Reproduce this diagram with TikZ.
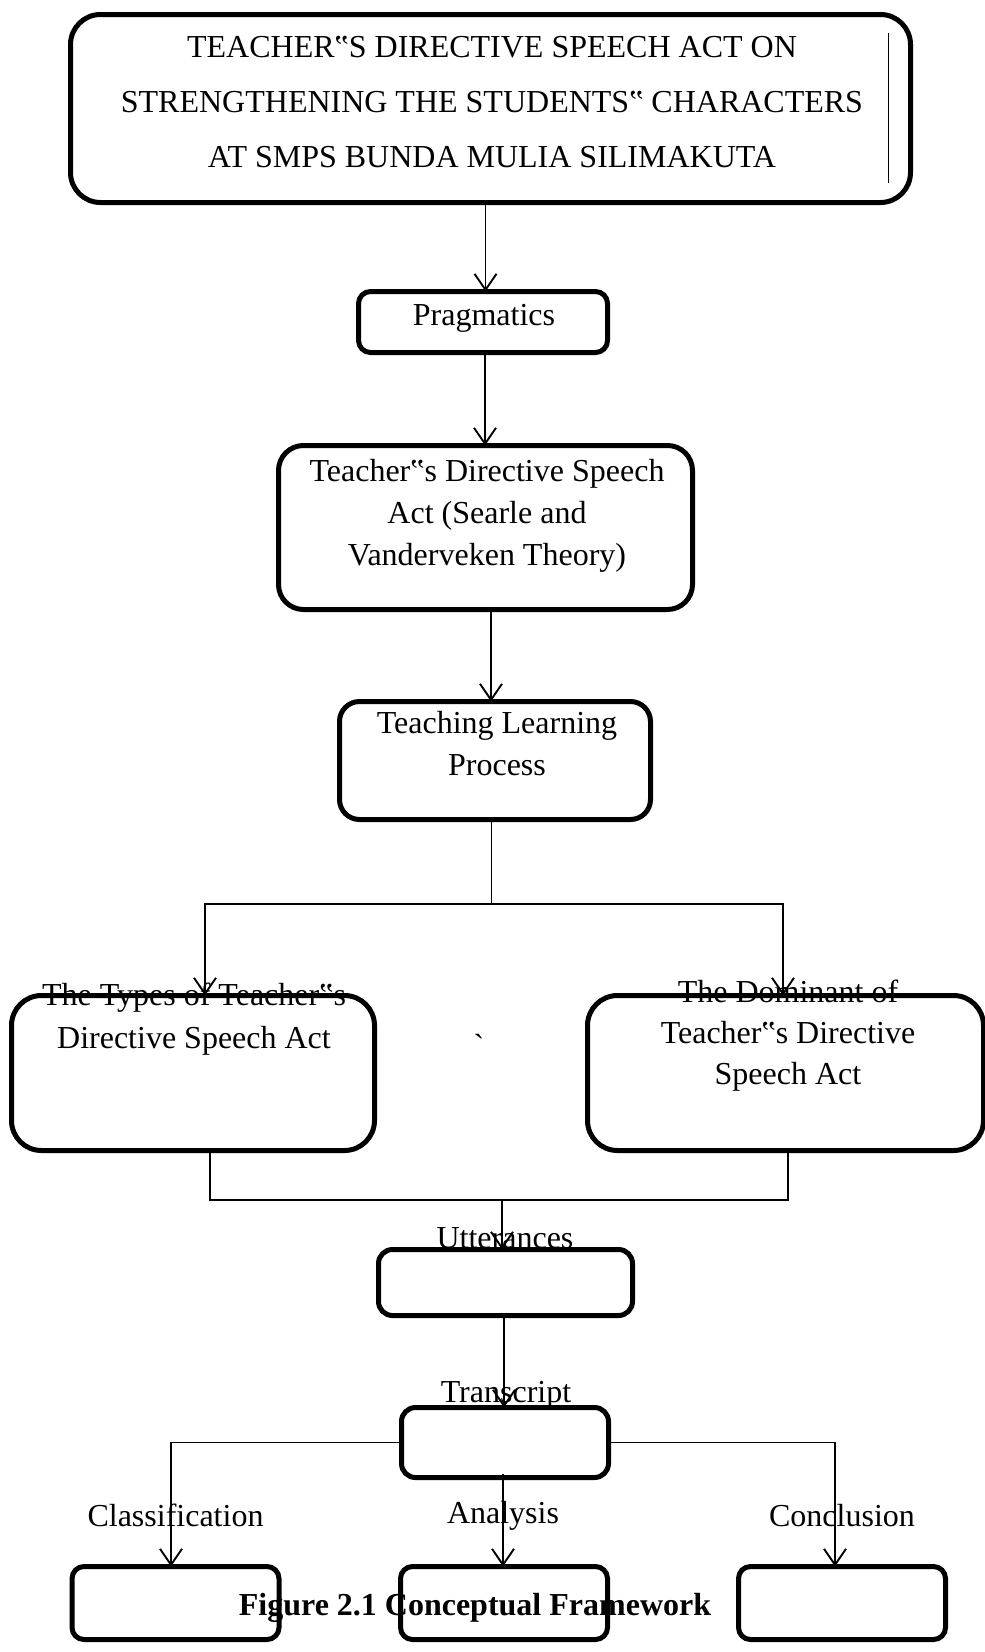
\documentclass[tikz,border=0pt]{standalone}
\usepackage{fontspec}
\setmainfont{Liberation Serif}
\usetikzlibrary{arrows.meta}
\usetikzlibrary{calc}

\begin{document}
\begin{tikzpicture}[
      x = 1pt, y = -1pt,
      box/.style = {
        draw = black, line width = 5pt,
        inner sep = 0pt, outer sep = 0pt
      },
      txt/.style = {
        font = \fontsize{32}{42}\selectfont,
        align = center, inner sep = 0pt, anchor = base
      },
      link/.style = { line width = 1.9pt },
      arr/.style = { link, -{Straight Barb[length=16pt, width=22pt]} },
    ]

    \useasboundingbox (0,0) rectangle (985,1652);

	%% boxes of the main chain
    \node[box, rounded corners = 30pt, minimum width = 840pt, minimum height = 188pt] (title) at (490.5,108.5) {};
    \node[box, rounded corners = 12pt, minimum width = 249pt, minimum height = 61pt] (prag) at (483,322) {};
    \node[box, rounded corners = 25pt, minimum width = 414pt, minimum height = 164pt] (searle) at (485.5,527.5) {};
    \node[box, rounded corners = 20pt, minimum width = 311pt, minimum height = 118pt] (tlp) at (495,760.5) {};

	%% the two branches
    \node[box, rounded corners = 30pt, minimum width = 363pt, minimum height = 155pt] (types) at (193,1073) {};
    \node[box, rounded corners = 30pt, minimum width = 396pt, minimum height = 155pt] (dom) at (785.5,1073) {};

	%% data boxes
    \node[box, rounded corners = 14pt, minimum width = 254pt, minimum height = 66pt] (utter) at (505.5,1282.5) {};
    \node[box, rounded corners = 14pt, minimum width = 207pt, minimum height = 70pt] (trans) at (505,1442.5) {};

    \foreach \n/\x in {classbox/175.5, analbox/504, conclbox/842} {
      \node[box, rounded corners = 12pt, minimum width = 207pt, minimum height = 73pt] (\n) at (\x,1603) {};
    }

    \draw[line width = 1pt] (888,33) -- (888,183);

	%% texts (base = last line)
    \node[txt, font = \fontsize{32}{55}\selectfont] (titletext) at (492,167)
      {TEACHER‟S DIRECTIVE SPEECH ACT ON\\ STRENGTHENING THE STUDENTS‟ CHARACTERS\\ AT SMPS BUNDA MULIA SILIMAKUTA};
    \node[txt] (pragtext) at (484,325) {Pragmatics};
    \node[txt] (searletext) at (487,565) {Teacher‟s Directive Speech\\ Act (Searle and\\ Vanderveken Theory)};
    \node[txt] (tlptext) at (497,775) {Teaching Learning\\ Process};
    \node[txt, font = \fontsize{32}{43}\selectfont] (typestext) at (194,1048) {The Types of Teacher‟s\\ Directive Speech Act};
    \node[txt, font = \fontsize{32}{41}\selectfont] (domtext) at (788,1084) {The Dominant of\\ Teacher‟s Directive\\ Speech Act};
    \node[txt, anchor = center] (tick) at (479,1045) {\textasciigrave};
    \node[txt] (uttertext) at (505,1248) {Utterances};
    \node[txt] (transtext) at (506,1402) {Transcript};
    \node[txt] (classtext) at (175.5,1526) {Classification};
    \node[txt] (analtext) at (503,1523) {Analysis};
    \node[txt] (concltext) at (842,1526) {Conclusion};
    \node[txt, font = \fontsize{32}{42}\selectfont\bfseries] (caption) at (475,1615) {Figure 2.1 Conceptual Framework};

	%% connectors
    \draw[arr] ([xshift=-5pt]title.south) -- ([xshift=-5pt]title.south |- prag.north);
    \draw[arr] ([xshift=2pt]prag.south) -- ([xshift=2pt]prag.south |- searle.north);
    \draw[arr] ([xshift=5.5pt]searle.south) -- ([xshift=5.5pt]searle.south |- tlp.north);

    \coordinate (split) at (491.5,904);
    \coordinate (merge) at (502,1200);

    \draw[link] ([xshift=-3.5pt]tlp.south) -- (split);
    \draw[arr] (split) -| ([xshift=12pt]types.north);
    \draw[arr] (split) -| ([xshift=-2.5pt]dom.north);

    \draw[link] ([xshift=17pt]types.south) |- (merge) -| ([xshift=2.5pt]dom.south);
    \draw[arr] (merge) -- (merge |- utter.north);
    \draw[arr] ([xshift=-1.5pt]utter.south) -- ([xshift=-1.5pt]utter.south |- trans.north);

    \draw[arr] (trans.west) -| ([xshift=-4.5pt]classbox.north);
    \draw[arr] (trans.east) -| ([xshift=-7pt]conclbox.north);
    \draw[arr] ([xshift=-2pt, yshift=4pt]trans.south) -- ([xshift=-2pt]trans.south |- analbox.north);
  \end{tikzpicture}
\end{document}
